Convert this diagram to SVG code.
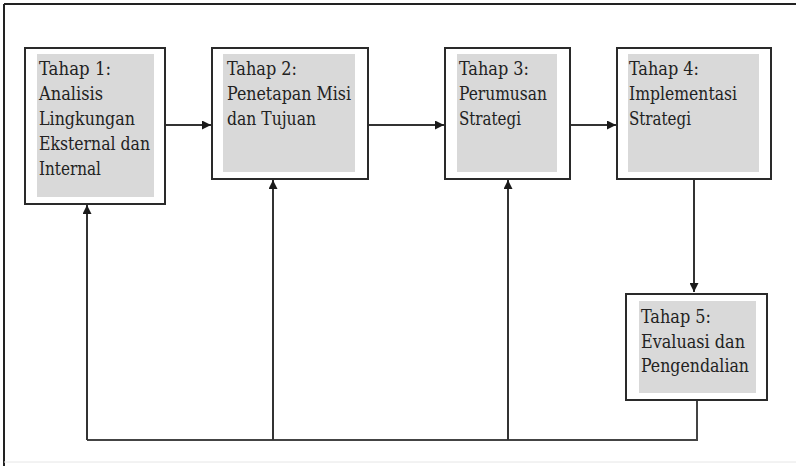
<svg xmlns="http://www.w3.org/2000/svg" width="796" height="466" viewBox="0 0 796 466">
<defs>
<marker id="ah" viewBox="0 0 10 10" refX="10" refY="5" markerWidth="10" markerHeight="9" markerUnits="userSpaceOnUse" orient="auto">
<path d="M0,0 L10,5 L0,10 Z" fill="#1a1a1a"/>
</marker>
</defs>
<style>
.box{fill:#ffffff;stroke:#2a2a2a;stroke-width:2}
.in{fill:#d9d9d9;stroke:none}
.t{font-size:19px;fill:#222;font-stretch:condensed}
.c{fill:none;stroke:#444;stroke-width:2}
.a{fill:none;stroke:#333;stroke-width:2;marker-end:url(#ah)}
</style>
<rect width="796" height="466" fill="#ffffff"/>
<g id="frame">
<line x1="4" y1="4" x2="796" y2="4" stroke="#222" stroke-width="2"/>
<line x1="4" y1="4" x2="4" y2="466" stroke="#222" stroke-width="2"/>
<line x1="4" y1="462" x2="796" y2="462" stroke="#e6e6e6" stroke-width="1"/>
</g>
<g id="connectors">
<line class="a" x1="165" y1="125" x2="211" y2="125"/>
<line class="a" x1="368" y1="125" x2="444" y2="125"/>
<line class="a" x1="570" y1="125" x2="616" y2="125"/>
<line class="a" x1="694" y1="179" x2="694" y2="292"/>
<polyline class="c" points="697,400 697,440 87,440"/>
<line class="a" x1="87" y1="440" x2="87" y2="205"/>
<line class="a" x1="273" y1="440" x2="273" y2="180"/>
<line class="a" x1="508" y1="440" x2="508" y2="180"/>
</g>
<g font-family="'DejaVu Serif', serif" lengthAdjust="spacingAndGlyphs">
<g id="n1">
<rect class="box" x="25" y="48" width="140" height="156"/>
<rect class="in" x="37" y="54" width="117" height="143"/>
<text class="t" x="39" y="75" textLength="72" lengthAdjust="spacingAndGlyphs">Tahap 1:</text>
<text class="t" x="39" y="100" textLength="64" lengthAdjust="spacingAndGlyphs">Analisis</text>
<text class="t" x="39" y="125" textLength="96" lengthAdjust="spacingAndGlyphs">Lingkungan</text>
<text class="t" x="39" y="150" textLength="111" lengthAdjust="spacingAndGlyphs">Eksternal dan</text>
<text class="t" x="39" y="175" textLength="62" lengthAdjust="spacingAndGlyphs">Internal</text>
</g>
<g id="n2">
<rect class="box" x="212" y="48" width="156" height="131"/>
<rect class="in" x="223" y="54" width="132" height="118"/>
<text class="t" x="227" y="75" textLength="70" lengthAdjust="spacingAndGlyphs">Tahap 2:</text>
<text class="t" x="227" y="100" textLength="124" lengthAdjust="spacingAndGlyphs">Penetapan Misi</text>
<text class="t" x="227" y="125" textLength="89" lengthAdjust="spacingAndGlyphs">dan Tujuan</text>
</g>
<g id="n3">
<rect class="box" x="445" y="48" width="125" height="131"/>
<rect class="in" x="457" y="54" width="100" height="118"/>
<text class="t" x="459" y="75" textLength="70" lengthAdjust="spacingAndGlyphs">Tahap 3:</text>
<text class="t" x="459" y="100" textLength="88" lengthAdjust="spacingAndGlyphs">Perumusan</text>
<text class="t" x="459" y="125" textLength="62" lengthAdjust="spacingAndGlyphs">Strategi</text>
</g>
<g id="n4">
<rect class="box" x="617" y="48" width="154" height="131"/>
<rect class="in" x="628" y="54" width="131" height="118"/>
<text class="t" x="629" y="75" textLength="70" lengthAdjust="spacingAndGlyphs">Tahap 4:</text>
<text class="t" x="629" y="100" textLength="108" lengthAdjust="spacingAndGlyphs">Implementasi</text>
<text class="t" x="629" y="125" textLength="62" lengthAdjust="spacingAndGlyphs">Strategi</text>
</g>
<g id="n5">
<rect class="box" x="626" y="294" width="141" height="106"/>
<rect class="in" x="639" y="301" width="117" height="92"/>
<text class="t" x="641" y="323" textLength="70" lengthAdjust="spacingAndGlyphs">Tahap 5:</text>
<text class="t" x="641" y="348" textLength="104" lengthAdjust="spacingAndGlyphs">Evaluasi dan</text>
<text class="t" x="641" y="372" textLength="108" lengthAdjust="spacingAndGlyphs">Pengendalian</text>
</g>
</g>
</svg>
